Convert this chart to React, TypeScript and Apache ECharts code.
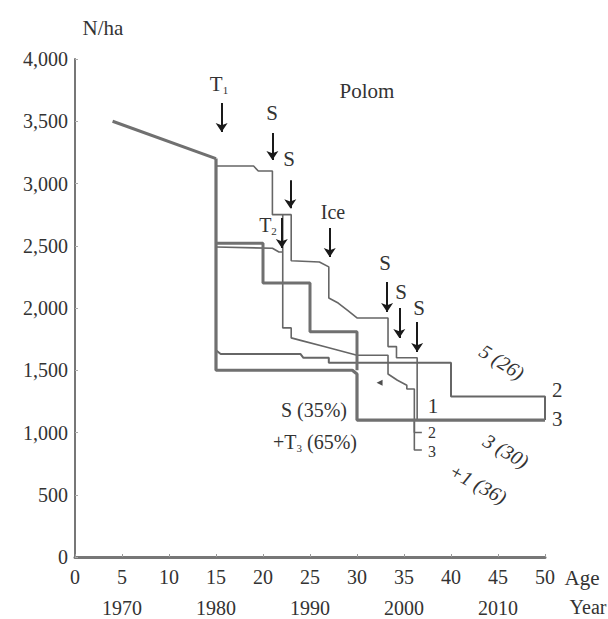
import React, { useEffect, useRef } from 'react';
import * as echarts from 'echarts';

// ---- data (age in years, density N/ha) ----
const initialLine: number[][] = [[4, 3500], [15, 3200]];
const thickMain: number[][] = [[15, 3200], [15, 1500], [29.5, 1500], [30, 1470], [30, 1100], [50, 1100]];
const lineTopS: number[][] = [
  [15, 3140], [19, 3140], [19.5, 3100], [21, 3100], [21, 2750], [23, 2750], [23, 2380], [26, 2370],
  [27, 2330], [27, 2080], [28, 2040], [29, 1980], [30, 1920], [33.3, 1920], [33.3, 1690], [34.2, 1690],
  [34.2, 1600], [36.4, 1600], [36.4, 1100],
];
const thick2500: number[][] = [[15, 2520], [20, 2520], [20, 2200], [25, 2200], [25, 1810], [30, 1810], [30, 1500]];
const thin2500: number[][] = [[15, 2490], [21, 2480], [21.7, 2450], [22.1, 2450]];
const lineT2: number[][] = [
  [22.1, 2750], [22.1, 1840], [23, 1840], [23, 1760], [24, 1740], [26.5, 1690], [28, 1660], [29.5, 1630],
  [30, 1620], [33.3, 1620], [33.3, 1470], [34.3, 1420], [35.3, 1380], [35.3, 1350], [36.1, 1350],
  [36.1, 1000], [36.9, 1000],
];
const branch3: number[][] = [[36.1, 1100], [36.1, 860], [36.9, 860]];
const line1620: number[][] = [
  [15, 1660], [15.5, 1630], [24, 1630], [24.3, 1600], [27, 1600], [27, 1560], [40, 1560], [40, 1290],
  [50, 1290], [50, 1100],
];
const pointerMark: number[][] = [[32.4, 1400]];

// arrows (age, top N, tip N)
const arrowAges = [15.6, 21.0, 22.9, 22.0, 27.1, 33.2, 34.5, 36.4];
const arrowTop = [3646, 3405, 3027, 2722, 2642, 2208, 2000, 1887];
const arrowTip = [3413, 3188, 2802, 2481, 2409, 1967, 1759, 1646];

// axes
const yMax = 4000;
const yStep = 500;
const xMax = 50;
const xStep = 5;
const yearTicks = [1970, 1980, 1990, 2000, 2010];
const yearAtAgeZero = 1965;

const FONT = 'Liberation Serif';
const TXT = '#333';
const THIN = '#666';
const THICK = '#707070';

const fmtN = (v: number) =>
  v >= 1000 ? `${Math.floor(v / 1000)},${String(v % 1000).padStart(3, '0')}` : String(v);

const lineSeries = (data: number[][], width: number, color: string) => ({
  type: 'line',
  data,
  symbol: 'none',
  silent: true,
  lineStyle: { width, color },
  z: width > 2 ? 3 : 2,
});

export default function App() {
  const ref = useRef<HTMLDivElement>(null);
  useEffect(() => {
    const chart = echarts.init(ref.current!, null, { renderer: 'svg' });
    const txt = (text: string, x: number, y: number, extra: any = {}) => ({
      type: 'text',
      x,
      y,
      rotation: extra.rotation || 0,
      style: {
        text,
        fontFamily: FONT,
        fontSize: extra.fontSize || 20,
        fontStyle: extra.fontStyle || 'normal',
        fill: extra.fill || TXT,
        textAlign: extra.align || 'center',
        textVerticalAlign: 'middle',
        rich: extra.rich,
      },
    });
    const sub = (fs: number) => ({
      a: { fontFamily: FONT, fontSize: fs, fill: TXT },
      b: { fontFamily: FONT, fontSize: 11, fill: TXT, padding: [12, 0, 0, 0] },
    });
    const option: any = {
      animation: false,
      backgroundColor: '#fff',
      textStyle: { fontFamily: FONT },
      grid: { left: 75, top: 59, width: 470, height: 498, containLabel: false },
      xAxis: [
        {
          type: 'value',
          min: 0,
          max: xMax,
          interval: xStep,
          position: 'bottom',
          axisLine: { show: true, lineStyle: { color: '#777', width: 3 } },
          axisTick: { show: true, inside: true, length: 3, lineStyle: { color: '#999' } },
          splitLine: { show: false },
          axisLabel: { fontFamily: FONT, fontSize: 20, color: TXT, margin: 10 },
        },
        {
          type: 'value',
          min: 0,
          max: xMax,
          interval: xStep,
          position: 'bottom',
          offset: 31,
          axisLine: { show: false },
          axisTick: { show: false },
          splitLine: { show: false },
          axisLabel: {
            fontFamily: FONT,
            fontSize: 20,
            color: TXT,
            margin: 10,
            formatter: (v: number) => (yearTicks.includes(yearAtAgeZero + v) ? String(yearAtAgeZero + v) : ''),
          },
        },
      ],
      yAxis: {
        type: 'value',
        min: 0,
        max: yMax,
        interval: yStep,
        axisLine: { show: true, lineStyle: { color: '#777', width: 2 } },
        axisTick: { show: true, inside: true, length: 3, lineStyle: { color: '#aaa' } },
        splitLine: { show: false },
        axisLabel: { fontFamily: FONT, fontSize: 20, color: TXT, margin: 7, formatter: fmtN },
      },
      series: [
        {
          ...lineSeries(initialLine, 3, THICK),
          markLine: {
            silent: true,
            symbol: ['none', 'arrow'],
            symbolSize: 9,
            label: { show: false },
            lineStyle: { color: '#1a1a1a', width: 2, type: 'solid' },
            data: arrowAges.map((a, i) => [{ coord: [a, arrowTop[i]] }, { coord: [a, arrowTip[i]] }]),
          },
        },
        lineSeries(thickMain, 3.2, THICK),
        lineSeries(lineTopS, 1.6, THIN),
        lineSeries(thick2500, 3, THICK),
        lineSeries(thin2500, 1.6, THIN),
        lineSeries(lineT2, 1.6, THIN),
        lineSeries(branch3, 1.6, THIN),
        lineSeries(line1620, 2, THIN),
        {
          type: 'scatter',
          data: pointerMark,
          symbol: 'triangle',
          symbolRotate: 90,
          symbolSize: 6,
          itemStyle: { color: '#222' },
          silent: true,
        },
      ],
      graphic: [
        txt('N/ha', 103, 28, { fontSize: 21 }),
        txt('Age', 582, 578, { fontSize: 21 }),
        txt('Year', 588, 607),
        txt('Polom', 367, 91, { fontSize: 21 }),
        txt('{a|T}{b|1}', 219, 84, { rich: sub(21) }),
        txt('S', 272, 113, { fontSize: 21 }),
        txt('S', 289, 159, { fontSize: 21 }),
        txt('{a|T}{b|2}', 268, 225, { rich: sub(20) }),
        txt('Ice', 333, 212),
        txt('S', 385, 263, { fontSize: 21 }),
        txt('S', 401, 292, { fontSize: 21 }),
        txt('S', 419, 308, { fontSize: 21 }),
        txt('5 (26)', 502, 362, { fontStyle: 'italic', rotation: -0.56 }),
        txt('2', 552, 390, { align: 'left', fontSize: 21 }),
        txt('3', 552, 419, { align: 'left', fontSize: 21 }),
        txt('1', 433, 406, { fontSize: 21 }),
        txt('2', 432, 432, { fontSize: 16 }),
        txt('3', 432, 451, { fontSize: 16 }),
        txt('S (35%)', 347, 410, { align: 'right' }),
        txt('{a|+T}{b|3}{a| (65%)}', 357, 442, { align: 'right', rich: sub(20) }),
        txt('3 (30)', 506, 451, { fontStyle: 'italic', rotation: -0.52 }),
        txt('+1 (36)', 478, 484, { fontStyle: 'italic', rotation: -0.5 }),
      ],
    };
    chart.setOption(option);
    return () => chart.dispose();
  }, []);
  return (
    <div
      ref={ref}
      style={{ position: 'fixed', left: 0, top: 0, width: 608, height: 619, background: '#fff' }}
    />
  );
}
